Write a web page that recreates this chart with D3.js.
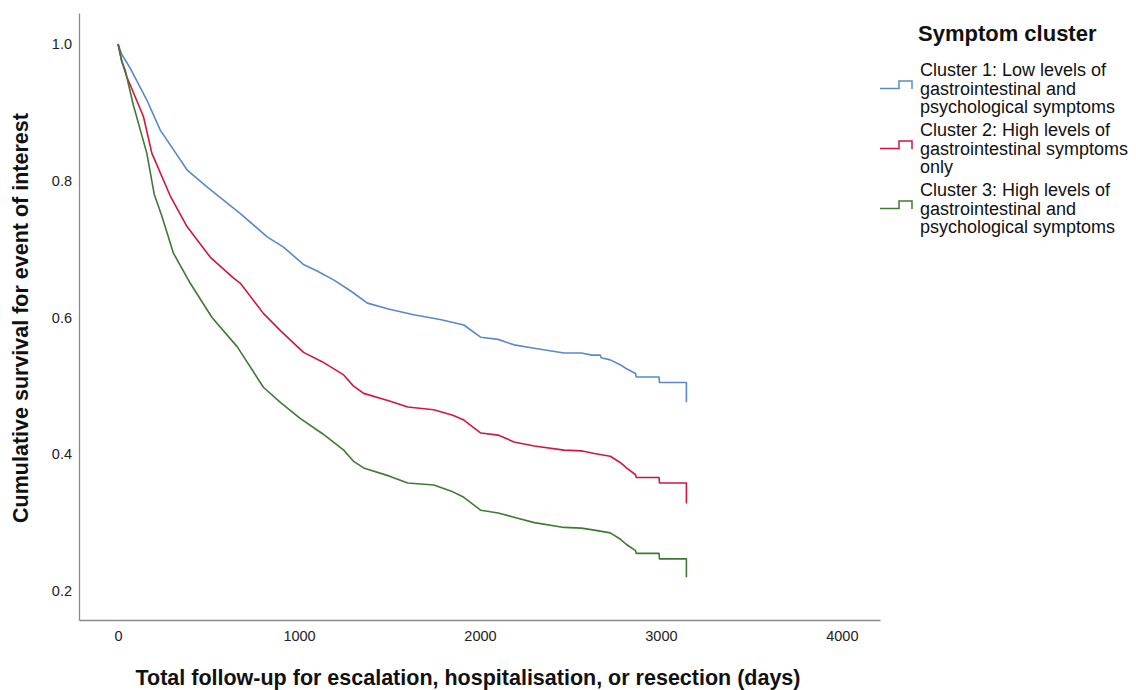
<!DOCTYPE html>
<html>
<head>
<meta charset="utf-8">
<script src="https://cdn.jsdelivr.net/npm/d3@7"></script>
<style>
  body { margin: 0; background: #fff; }
  svg { font-family: "Liberation Sans", Arial, sans-serif; }
</style>
</head>
<body>
<div id="chart"></div>
<script>
// survival curves: [days, cumulative survival]
var cluster1 = [[0,1.0],[20,0.985],[66,0.965],[159,0.918],[233,0.874],[381,0.816],[491,0.791],[676,0.752],
  [824,0.718],[914,0.703],[1027,0.677],[1100,0.668],[1191,0.655],[1290,0.638],[1378,0.621],
  [1500,0.612],[1634,0.604],[1780,0.597],[1911,0.589],[2005,0.571],[2100,0.568],[2188,0.56],[2300,0.555],
  [2465,0.548],[2560,0.548],[2620,0.545],[2665,0.545],[2670,0.541],[2720,0.538],[2775,0.531],[2810,0.525],
  [2860,0.518],[2864,0.513],[2990,0.513],[2992,0.505],[3141,0.505],[3141,0.476]];

var cluster2 = [[0,1.0],[20,0.975],[48,0.952],[140,0.894],[187,0.84],[288,0.778],[381,0.733],
  [510,0.688],[637,0.658],[676,0.65],[803,0.606],[900,0.58],[1025,0.549],[1130,0.535],[1247,0.516],
  [1300,0.5],[1357,0.489],[1500,0.478],[1601,0.469],[1745,0.465],[1850,0.457],[1911,0.45],[2005,0.431],
  [2100,0.428],[2188,0.418],[2300,0.412],[2465,0.406],[2560,0.405],[2632,0.401],[2720,0.397],[2775,0.388],
  [2810,0.38],[2860,0.37],[2864,0.366],[2990,0.366],[2992,0.358],[3141,0.358],[3141,0.328]];

var cluster3 = [[0,1.0],[20,0.975],[39,0.962],[85,0.91],[159,0.84],[200,0.78],[240,0.75],[306,0.694],
  [399,0.65],[519,0.6],[659,0.557],[803,0.498],[900,0.475],[1008,0.452],[1130,0.43],[1247,0.406],
  [1300,0.39],[1357,0.38],[1500,0.368],[1601,0.358],[1745,0.355],[1850,0.345],[1911,0.337],[2005,0.318],
  [2100,0.314],[2188,0.308],[2300,0.3],[2465,0.293],[2560,0.292],[2632,0.289],[2720,0.285],[2775,0.276],
  [2810,0.268],[2860,0.259],[2864,0.255],[2990,0.255],[2992,0.247],[3141,0.247],[3141,0.22]];

var xTicks = [0, 1000, 2000, 3000, 4000];
var yTicks = [0.2, 0.4, 0.6, 0.8, 1.0];

var legendTitle = "Symptom cluster";
var legendLabels = [
  ["Cluster 1: Low levels of", "gastrointestinal and", "psychological symptoms"],
  ["Cluster 2: High levels of", "gastrointestinal symptoms", "only"],
  ["Cluster 3: High levels of", "gastrointestinal and", "psychological symptoms"]
];
var colors = ["#5b88cc", "#d2163f", "#3f7a35"];
var series = [cluster1, cluster2, cluster3];

var width = 1136, height = 690;

var svg = d3.select("#chart")
    .append("svg")
    .attr("width", width)
    .attr("height", height);

var x = d3.scaleLinear()
    .domain([-216, 4211])
    .range([79, 880]);

var y = d3.scaleLinear()
    .domain([0.1576, 1.0453])
    .range([620, 13]);

// axes
var xAxis = svg.append("g")
    .attr("transform", "translate(0,620)")
    .call(d3.axisBottom(x).tickValues(xTicks).tickSize(0).tickPadding(11).tickFormat(d3.format("d")));

var yAxis = svg.append("g")
    .attr("transform", "translate(79,0)")
    .call(d3.axisLeft(y).tickValues(yTicks).tickSize(0).tickPadding(7).tickFormat(d3.format(".1f")));

[xAxis, yAxis].forEach(function (a) {
    a.select(".domain").attr("stroke", "#8a8a8a").attr("stroke-width", 1.3);
    a.selectAll("text")
        .attr("fill", "#222")
        .style("font-size", "14.5px")
        .style("font-family", "Liberation Sans, Arial, sans-serif");
});

// axis titles
svg.append("text")
    .attr("x", 468)
    .attr("y", 685)
    .attr("text-anchor", "middle")
    .style("font-size", "21.5px")
    .style("font-weight", "bold")
    .attr("fill", "#111")
    .text("Total follow-up for escalation, hospitalisation, or resection (days)");

svg.append("text")
    .attr("transform", "translate(28,318) rotate(-90)")
    .attr("text-anchor", "middle")
    .style("font-size", "21.5px")
    .style("font-weight", "bold")
    .attr("fill", "#111")
    .text("Cumulative survival for event of interest");

// curves
var line = d3.line()
    .x(function (d) { return x(d[0]) })
    .y(function (d) { return y(d[1]) });

svg.append("g")
    .selectAll("path")
    .data(series)
    .enter()
    .append("path")
    .attr("d", line)
    .attr("fill", "none")
    .attr("stroke", function (d, i) { return colors[i] })
    .attr("stroke-width", 1.6)
    .attr("stroke-linejoin", "round");

// legend
var legend = svg.append("g");

legend.append("text")
    .attr("x", 918)
    .attr("y", 41)
    .style("font-size", "22px")
    .style("font-weight", "bold")
    .attr("fill", "#111")
    .text(legendTitle);

var item = legend.selectAll("g.item")
    .data(legendLabels)
    .enter()
    .append("g")
    .attr("class", "item")
    .attr("transform", function (d, i) { return "translate(0," + (70 + i * 60) + ")" });

item.append("path")
    .attr("d", "M880,18.5H899V11H912V19")
    .attr("fill", "none")
    .attr("stroke", function (d, i) { return colors[i] })
    .attr("stroke-width", 1.5);

item.selectAll("text")
    .data(function (d) { return d })
    .enter()
    .append("text")
    .attr("x", 920)
    .attr("y", function (d, j) { return 6 + j * 18.5 })
    .style("font-size", "18px")
    .attr("fill", "#111")
    .text(function (d) { return d });
</script>
</body>
</html>
